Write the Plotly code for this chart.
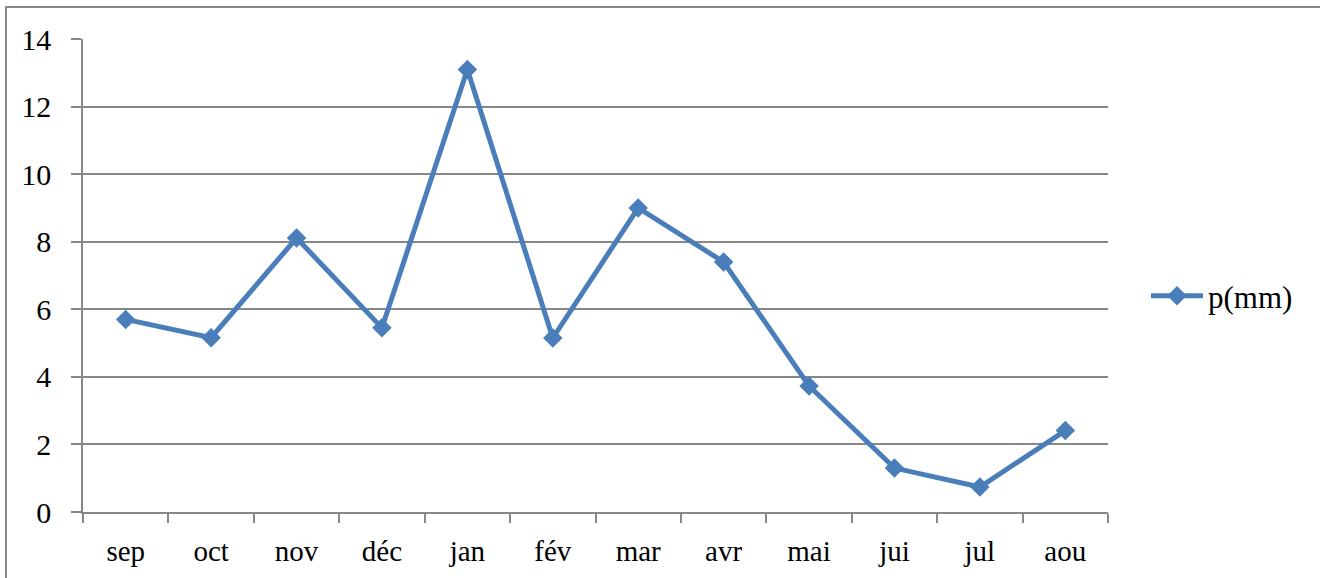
import plotly.graph_objects as go

months = ["sep", "oct", "nov", "déc", "jan", "fév", "mar", "avr", "mai", "jui", "jul", "aou"]
p_mm = [5.70, 5.16, 8.11, 5.45, 13.10, 5.15, 9.00, 7.40, 3.73, 1.30, 0.74, 2.41]
y_ticks = [0, 2, 4, 6, 8, 10, 12, 14]
series_name = "p(mm)"

LINE = "#4A7EBB"
GRID = "#878787"
FONT = "'Liberation Serif', 'Times New Roman', serif"

fig = go.Figure()
fig.add_trace(go.Scatter(
    x=months, y=p_mm, name=series_name, mode="lines+markers",
    line=dict(color=LINE, width=5),
    marker=dict(symbol="diamond", size=15, color=LINE),
))

L, R, T, B = 83, 1108, 39, 512
W, H = 1320, 578
pw, ph = R - L, B - T

fig.update_layout(
    width=W, height=H,
    margin=dict(l=L, r=W - R, t=T, b=H - B),
    paper_bgcolor="white", plot_bgcolor="white",
    font=dict(family=FONT, size=29, color="black"),
    showlegend=True,
    legend=dict(x=(1146 - L) / pw, y=(B - 296) / ph, xanchor="left", yanchor="middle",
                font=dict(family=FONT, size=31, color="black"), bgcolor="rgba(0,0,0,0)",
                itemwidth=52),
    xaxis=dict(
        type="category", showgrid=False, showline=True, linecolor=GRID, linewidth=1.5,
        ticks="outside", ticklen=9, tickcolor=GRID, tickwidth=1.5, tickson="boundaries",
        tickfont=dict(family=FONT, size=29, color="black"), range=[-0.5, 11.5],
        ticklabelstandoff=12,
    ),
    yaxis=dict(
        range=[0, 14], tickvals=y_ticks, ticktext=[str(v) for v in y_ticks],
        showgrid=True, gridcolor=GRID, gridwidth=1.5,
        showline=True, linecolor=GRID, linewidth=1.5, zeroline=False,
        ticks="outside", ticklen=10, tickcolor=GRID, tickwidth=1.5,
        tickfont=dict(family=FONT, size=30, color="black"), ticklabelstandoff=14,
    ),
    shapes=[dict(
        type="rect", xref="paper", yref="paper",
        x0=(6 - L) / pw, x1=(1340 - L) / pw, y0=(B - 600) / ph, y1=(B - 7) / ph,
        line=dict(color=GRID, width=2), fillcolor="rgba(0,0,0,0)", layer="below",
    )],
)

fig.write_html(
    "out.html",
    config={"displayModeBar": False},
    post_script="document.body.style.margin='0';document.body.style.overflow='hidden';",
)
